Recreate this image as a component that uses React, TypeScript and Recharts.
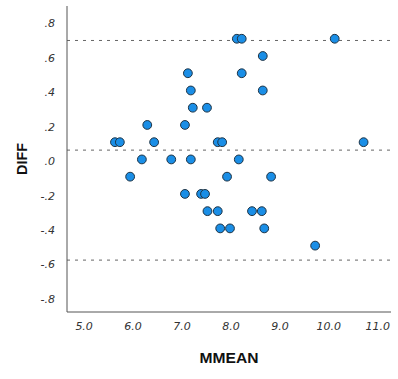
import { ScatterChart, Scatter, XAxis, YAxis, ReferenceLine } from "recharts"

// Bland-Altman points: mean of two measures vs difference
const mmean = [
  8.12, 8.22, 10.12, 8.65, 7.12, 8.22, 7.18, 8.65, 7.22, 7.51,
  6.29, 7.06, 5.63, 5.73, 6.43, 7.73, 7.82, 10.71, 6.18, 6.78,
  7.18, 8.16, 5.94, 7.92, 8.82, 7.06, 7.39, 7.47, 7.52, 7.73,
  8.43, 8.63, 7.78, 7.98, 8.68, 9.72,
]
const diff = [
  0.71, 0.71, 0.71, 0.61, 0.51, 0.51, 0.41, 0.41, 0.31, 0.31,
  0.21, 0.21, 0.11, 0.11, 0.11, 0.11, 0.11, 0.11, 0.01, 0.01,
  0.01, 0.01, -0.09, -0.09, -0.09, -0.19, -0.19, -0.19, -0.29, -0.29,
  -0.29, -0.29, -0.39, -0.39, -0.39, -0.49,
]
const xTicks = [5, 6, 7, 8, 9, 10, 11]
const yTicks = [0.8, 0.6, 0.4, 0.2, 0, -0.2, -0.4, -0.6, -0.8]
const limits = [0.7, 0.064, -0.574] // upper LoA, mean diff, lower LoA

const rows = mmean.map((m, i) => ({ x: m, y: diff[i] }))

const fmtY = (v: number) => {
  const s = Math.abs(v).toFixed(1).replace(/^0/, "")
  return v < 0 ? "-" + s : s
}

const tickFont = { fontFamily: "DejaVu Sans", fontStyle: "italic", fontSize: 11, fill: "#333" }

export default function App() {
  return (
    <div style={{ position: "absolute", left: 0, top: 0, width: 398, height: 379, background: "#fff" }}>
      <ScatterChart width={398} height={379} margin={{ top: 6, right: 7, bottom: 0, left: 0 }}>
        <XAxis
          type="number"
          dataKey="x"
          domain={[4.65, 11.27]}
          ticks={xTicks}
          tickFormatter={(v: number) => v.toFixed(1)}
          tick={{ ...tickFont, dy: 2 }}
          tickLine={false}
          stroke="#555"
          height={67}
          allowDataOverflow
          label={() => (
            <text x={229} y={363} textAnchor="middle" fontFamily="Liberation Sans" fontWeight="bold" fontSize={15}
              textLength={59} lengthAdjust="spacingAndGlyphs" fill="#111">MMEAN</text>
          )}
        />
        <YAxis
          type="number"
          dataKey="y"
          domain={[-0.875, 0.9]}
          ticks={yTicks}
          tickFormatter={fmtY}
          tick={tickFont}
          tickLine={false}
          tickMargin={6}
          stroke="#555"
          width={67}
          allowDataOverflow
          label={() => (
            <text x={27} y={159} textAnchor="middle" fontFamily="Liberation Sans" fontWeight="bold" fontSize={15}
              textLength={32} lengthAdjust="spacingAndGlyphs" fill="#111" transform="rotate(-90 27 159)">DIFF</text>
          )}
        />
        {limits.map((v) => (
          <ReferenceLine key={v} y={v} stroke="#666" strokeDasharray="3 5" />
        ))}
        <Scatter data={rows} fill="#1a8ee6" stroke="#1e3344" strokeWidth={1} isAnimationActive={false}
          shape={(p: any) => <circle cx={p.cx} cy={p.cy} r={4.4} fill="#1a8ee6" stroke="#1e3344" strokeWidth={1} />} />
      </ScatterChart>
    </div>
  )
}
